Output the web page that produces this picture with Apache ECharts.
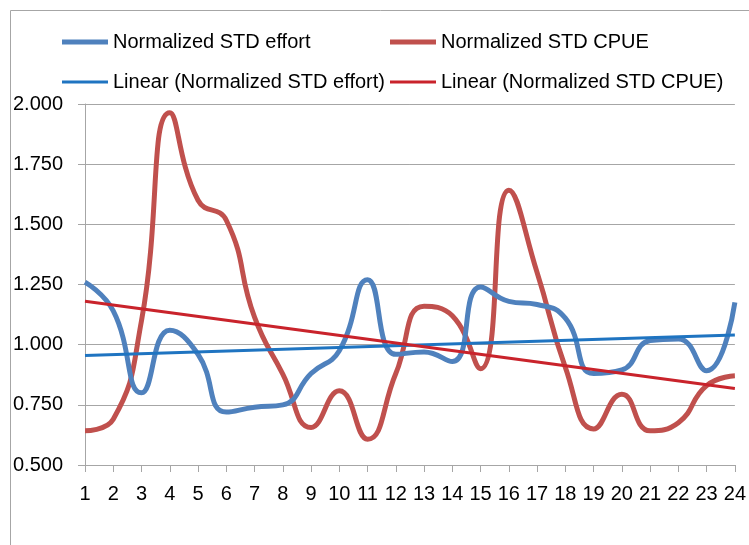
<!DOCTYPE html>
<html>
<head>
<meta charset="utf-8">
<script src="https://cdn.jsdelivr.net/npm/echarts@6/dist/echarts.min.js"></script>
<style>
  html, body { margin: 0; padding: 0; background: #fff; }
  #chart { width: 749px; height: 545px; }
</style>
</head>
<body>
<div id="chart"></div>
<script>
// categories 1..24
const categories = ['1','2','3','4','5','6','7','8','9','10','11','12','13','14','15','16','17','18','19','20','21','22','23','24']

const effort = [1.26, 1.14, 0.80, 1.06, 0.96, 0.72, 0.74, 0.75, 0.88, 0.975, 1.27, 0.96,
                0.97, 0.93, 1.24, 1.18, 1.167, 1.11, 0.88, 0.895, 1.017, 1.024, 0.892, 1.176]
const cpue = [0.642, 0.69, 1.10, 1.964, 1.60, 1.517, 1.114, 0.878, 0.656, 0.808, 0.607, 0.88,
              1.16, 1.12, 0.90, 1.642, 1.30, 0.906, 0.65, 0.794, 0.642, 0.676, 0.83, 0.871]

// trendline end values (at 1 and at 24)
const effortTrend = [0.955, 1.04]
const cpueTrend = [1.18, 0.818]

const names = ['Normalized STD effort', 'Normalized STD CPUE',
               'Linear (Normalized STD effort)', 'Linear (Normalized STD CPUE)']

const FONT = 'Liberation Sans'

// two-point line on the category axis, nulls between
const trendData = (ends) => categories.map((c, i) =>
  i === 0 ? ends[0] : (i === categories.length - 1 ? ends[1] : null))

const legendAt = (name, left, top, h) => ({
  data: [name],
  left: left,
  top: top,
  padding: 0,
  icon: 'rect',
  itemWidth: 46,
  itemHeight: h,
  itemGap: 5,
  textStyle: { fontFamily: FONT, fontSize: 20, color: '#000' }
})

var dom = document.getElementById('chart')
var myChart = echarts.init(dom)

var option = {
  animation: false,
  backgroundColor: '#fff',
  graphic: [{
    type: 'rect',
    shape: { x: 10.5, y: 10.5, width: 800, height: 600 },
    style: { fill: 'none', stroke: '#a6a6a6', lineWidth: 1 },
    silent: true
  }],
  legend: [
    legendAt(names[0], 62, 32, 5),
    legendAt(names[1], 390, 32, 5),
    legendAt(names[2], 62, 72, 3),
    legendAt(names[3], 390, 72, 3)
  ],
  grid: { left: 85, right: 12, top: 104, bottom: 80, containLabel: false },
  xAxis: {
    type: 'category',
    data: categories,
    boundaryGap: false,
    axisLine: { lineStyle: { color: '#a6a6a6', width: 1 } },
    axisTick: { show: true, length: 7, lineStyle: { color: '#a6a6a6' } },
    axisLabel: { fontFamily: FONT, fontSize: 20, color: '#000', margin: 19, interval: 0 },
    splitLine: { show: false }
  },
  yAxis: {
    type: 'value',
    min: 0.5,
    max: 2.0,
    interval: 0.25,
    axisLine: { show: true, lineStyle: { color: '#a6a6a6', width: 1 } },
    axisTick: { show: true, length: 7, lineStyle: { color: '#a6a6a6' } },
    axisLabel: {
      fontFamily: FONT, fontSize: 20, color: '#000', margin: 22,
      formatter: v => v.toFixed(3)
    },
    splitLine: { lineStyle: { color: '#a6a6a6', width: 1 } }
  },
  series: [{
    name: names[0],
    type: 'line',
    data: effort,
    smooth: 0.5,
    showSymbol: false,
    symbol: 'none',
    color: '#4f81bd',
    lineStyle: { width: 5, color: '#4f81bd' },
    z: 3
  }, {
    name: names[1],
    type: 'line',
    data: cpue,
    smooth: 0.5,
    showSymbol: false,
    symbol: 'none',
    color: '#c0504d',
    lineStyle: { width: 5, color: '#c0504d' },
    z: 2
  }, {
    name: names[2],
    type: 'line',
    data: trendData(effortTrend),
    connectNulls: true,
    showSymbol: false,
    symbol: 'none',
    color: '#1f74c1',
    lineStyle: { width: 3, color: '#1f74c1' },
    z: 4
  }, {
    name: names[3],
    type: 'line',
    data: trendData(cpueTrend),
    connectNulls: true,
    showSymbol: false,
    symbol: 'none',
    color: '#c9232b',
    lineStyle: { width: 3, color: '#c9232b' },
    z: 5
  }]
}

myChart.setOption(option)
</script>
</body>
</html>
